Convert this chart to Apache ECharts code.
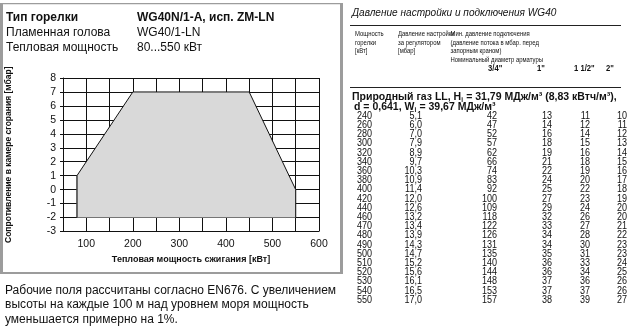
<!DOCTYPE html>
<html><head><meta charset="utf-8">
<script src="https://cdn.jsdelivr.net/npm/echarts@6/dist/echarts.min.js"></script>
<style>html,body{margin:0;padding:0;background:#fff}#c{width:630px;height:326px}</style>
</head><body><div id="c"></div>
<script>
// ---- Chart data (working field polygon) ----
var fieldPower = [80, 80, 200, 450, 550, 550];     // kW
var fieldPressure = [-2, 1, 7, 7, 0, -2];          // mbar
var xTicks = [100, 200, 300, 400, 500, 600];

// ---- Table data ----
var tPower = [240,260,280,300,320,340,360,380,400,420,440,460,470,480,490,500,510,520,530,540,550];
var tSetPressure = [5.1,6.0,7.0,7.9,8.9,9.7,10.3,10.9,11.4,12.0,12.6,13.2,13.4,13.9,14.3,14.7,15.2,15.6,16.1,16.5,17.0];
var tP34 = [42,47,52,57,62,66,74,83,92,100,109,118,122,126,131,135,140,144,148,153,157];
var tP1 = [13,14,16,18,19,21,22,24,25,27,29,32,33,34,34,35,36,36,37,37,38];
var tP112 = [11,12,14,15,16,18,19,20,22,23,24,26,27,28,30,31,33,34,36,37,39];
var tP2 = [10,11,12,13,14,15,16,17,18,19,20,20,21,22,23,23,24,25,26,26,27];
var diamLabels = ['3/4"', '1"', '1 1/2"', '2"'];

var FONT = '"Liberation Sans", Arial, Helvetica, sans-serif';
var chart = echarts.init(document.getElementById('c'), null, {renderer: 'canvas'});

var polyData = fieldPower.map(function (p, i) { return [p, fieldPressure[i]]; });

var mctx = document.createElement('canvas').getContext('2d');
function fontStr(o) { return (o.style || 'normal') + ' ' + (o.weight || 'normal') + ' ' + (o.size || 12) + 'px ' + FONT; }
function measure(s, o) { mctx.font = fontStr(o); return mctx.measureText(s).width * (o.sx || 1); }

var g = [];
function txt(x, y, s, o) {
  o = o || {};
  g.push({type: 'text', x: x, y: y, scaleX: o.sx || 1, silent: true, z: 10, style: {
    text: s, font: fontStr(o),
    fill: o.color || '#111', textAlign: o.align || 'left', textVerticalAlign: 'middle' }});
}
function rect(x, y, w, h, c) {
  g.push({type: 'rect', shape: {x: x, y: y, width: w, height: h}, style: {fill: c}, silent: true, z: 5});
}
// frame around left panel
var frameC = '#9c9c9c';
rect(0, 3, 343, 1.3, frameC);
rect(0, 3, 3, 271, frameC);
rect(340, 3, 3, 271, frameC);
rect(0, 272, 343, 2, frameC);

// heading block
txt(6, 18, 'Тип горелки', {weight: 'bold'});
txt(137, 18, 'WG40N/1-A, исп. ZM-LN', {weight: 'bold'});
txt(6, 33, 'Пламенная голова');
txt(137, 33, 'WG40/1-LN');
txt(6, 47.5, 'Тепловая мощность');
txt(137, 47.5, '80...550 кВт');

// footnote
txt(5, 290.5, 'Рабочие поля рассчитаны согласно EN676. С увеличением');
txt(5, 305, 'высоты на каждые 100 м над уровнем моря мощность');
txt(5, 319.5, 'уменьшается примерно на 1%.');

// table title & header
txt(352, 13.5, 'Давление настройки и подключения WG40', {style: 'italic', size: 10.5, sx: 0.96});
rect(350, 25, 271, 0.9, '#222');
rect(350, 87, 271, 0.9, '#222');
var hs = 7.8, hx = 0.76;
txt(355, 34, 'Мощность', {size: hs, sx: hx}); txt(355, 42.5, 'горелки', {size: hs, sx: hx}); txt(355, 51, '[кВт]', {size: hs, sx: hx});
txt(398, 34, 'Давление настройки', {size: hs, sx: hx}); txt(398, 42.5, 'за регулятором', {size: hs, sx: hx}); txt(398, 51, '[мбар]', {size: hs, sx: hx});
txt(450.5, 34, 'Мин. давление подключения', {size: hs, sx: hx});
txt(450.5, 42.5, '(давление потока в мбар. перед', {size: hs, sx: hx});
txt(450.5, 51, 'запорным краном)', {size: hs, sx: hx});
txt(450.5, 60, 'Номинальный диаметр арматуры', {size: hs, sx: hx});
var diamX = [488, 537, 574, 606];
diamLabels.forEach(function (d, i) { txt(diamX[i], 69, d, {size: 8.5, weight: 'bold', sx: 0.9}); });

// gas lines with subscripts (placed by measured width)
function subLine(x, y, a, sub, b) {
  var ob = {size: 10.5, weight: 'bold'};
  txt(x, y, a, ob);
  var w = measure(a, ob);
  var os = {size: 6.5, weight: 'bold'};
  txt(x + w, y + 3, sub, os);
  txt(x + w + measure(sub, os) + 0.3, y, b, ob);
}
subLine(352, 97, 'Природный газ LL, H', 'i', ' = 31,79 МДж/м³ (8,83 кВтч/м³),');
subLine(354, 107, 'd = 0,641, W', 'i', ' = 39,67 МДж/м³');

// table rows
var colRight = [372, 422, 497, 552, 590, 627];
tPower.forEach(function (p, i) {
  var y = 116 + i * 9.2;
  var vals = [String(p), tSetPressure[i].toFixed(1).replace('.', ','), String(tP34[i]), String(tP1[i]), String(tP112[i]), String(tP2[i])];
  vals.forEach(function (v, j) { txt(colRight[j], y, v, {size: 10.5, align: 'right', sx: 0.86}); });
});

var option = {
  animation: false,
  backgroundColor: '#fff',
  grid: {left: 63, right: 311, top: 78, bottom: 94.5, containLabel: false},
  xAxis: {
    type: 'value', min: 50, max: 600, interval: 50,
    name: 'Тепловая мощность сжигания [кВт]', nameLocation: 'middle', nameGap: 24,
    nameTextStyle: {fontFamily: FONT, fontWeight: 'bold', fontSize: 9, color: '#111'},
    axisLine: {show: true, lineStyle: {color: '#111', width: 1}},
    axisTick: {show: true, length: 3, lineStyle: {color: '#111'}},
    axisLabel: {fontFamily: FONT, fontSize: 10.5, color: '#111', margin: 7,
      formatter: function (v) { return xTicks.indexOf(v) >= 0 ? String(v) : ''; }},
    splitLine: {show: true, lineStyle: {color: '#111', width: 1}}
  },
  yAxis: {
    type: 'value', min: -3, max: 8, interval: 1,
    name: 'Сопротивление в камере сгорания [мбар]', nameLocation: 'middle', nameGap: 50,
    nameTextStyle: {fontFamily: FONT, fontWeight: 'bold', fontSize: 8.5, color: '#111'},
    axisLine: {show: true, lineStyle: {color: '#111', width: 1}},
    axisTick: {show: true, length: 3, lineStyle: {color: '#111'}},
    axisLabel: {fontFamily: FONT, fontSize: 10.5, color: '#111', margin: 7},
    splitLine: {show: true, lineStyle: {color: '#111', width: 1}}
  },
  series: [{
    type: 'custom',
    data: [0],
    z: 1,
    renderItem: function (params, api) {
      var pts = polyData.map(function (d) { return api.coord(d); });
      return {type: 'polygon', shape: {points: pts}, style: {fill: '#d9d9d9', stroke: 'none'}};
    }
  }, {
    type: 'line',
    data: polyData.slice(0, 5),
    symbol: 'none',
    z: 3,
    lineStyle: {color: '#111', width: 1}
  }, {
    type: 'line',
    data: [polyData[0], polyData[1]],
    symbol: 'none', z: 3,
    lineStyle: {color: '#555', width: 1}
  }, {
    type: 'line',
    data: [polyData[4], polyData[5]],
    symbol: 'none', z: 3,
    lineStyle: {color: '#111', width: 1}
  }],
  graphic: g
};
chart.setOption(option);
</script></body></html>
